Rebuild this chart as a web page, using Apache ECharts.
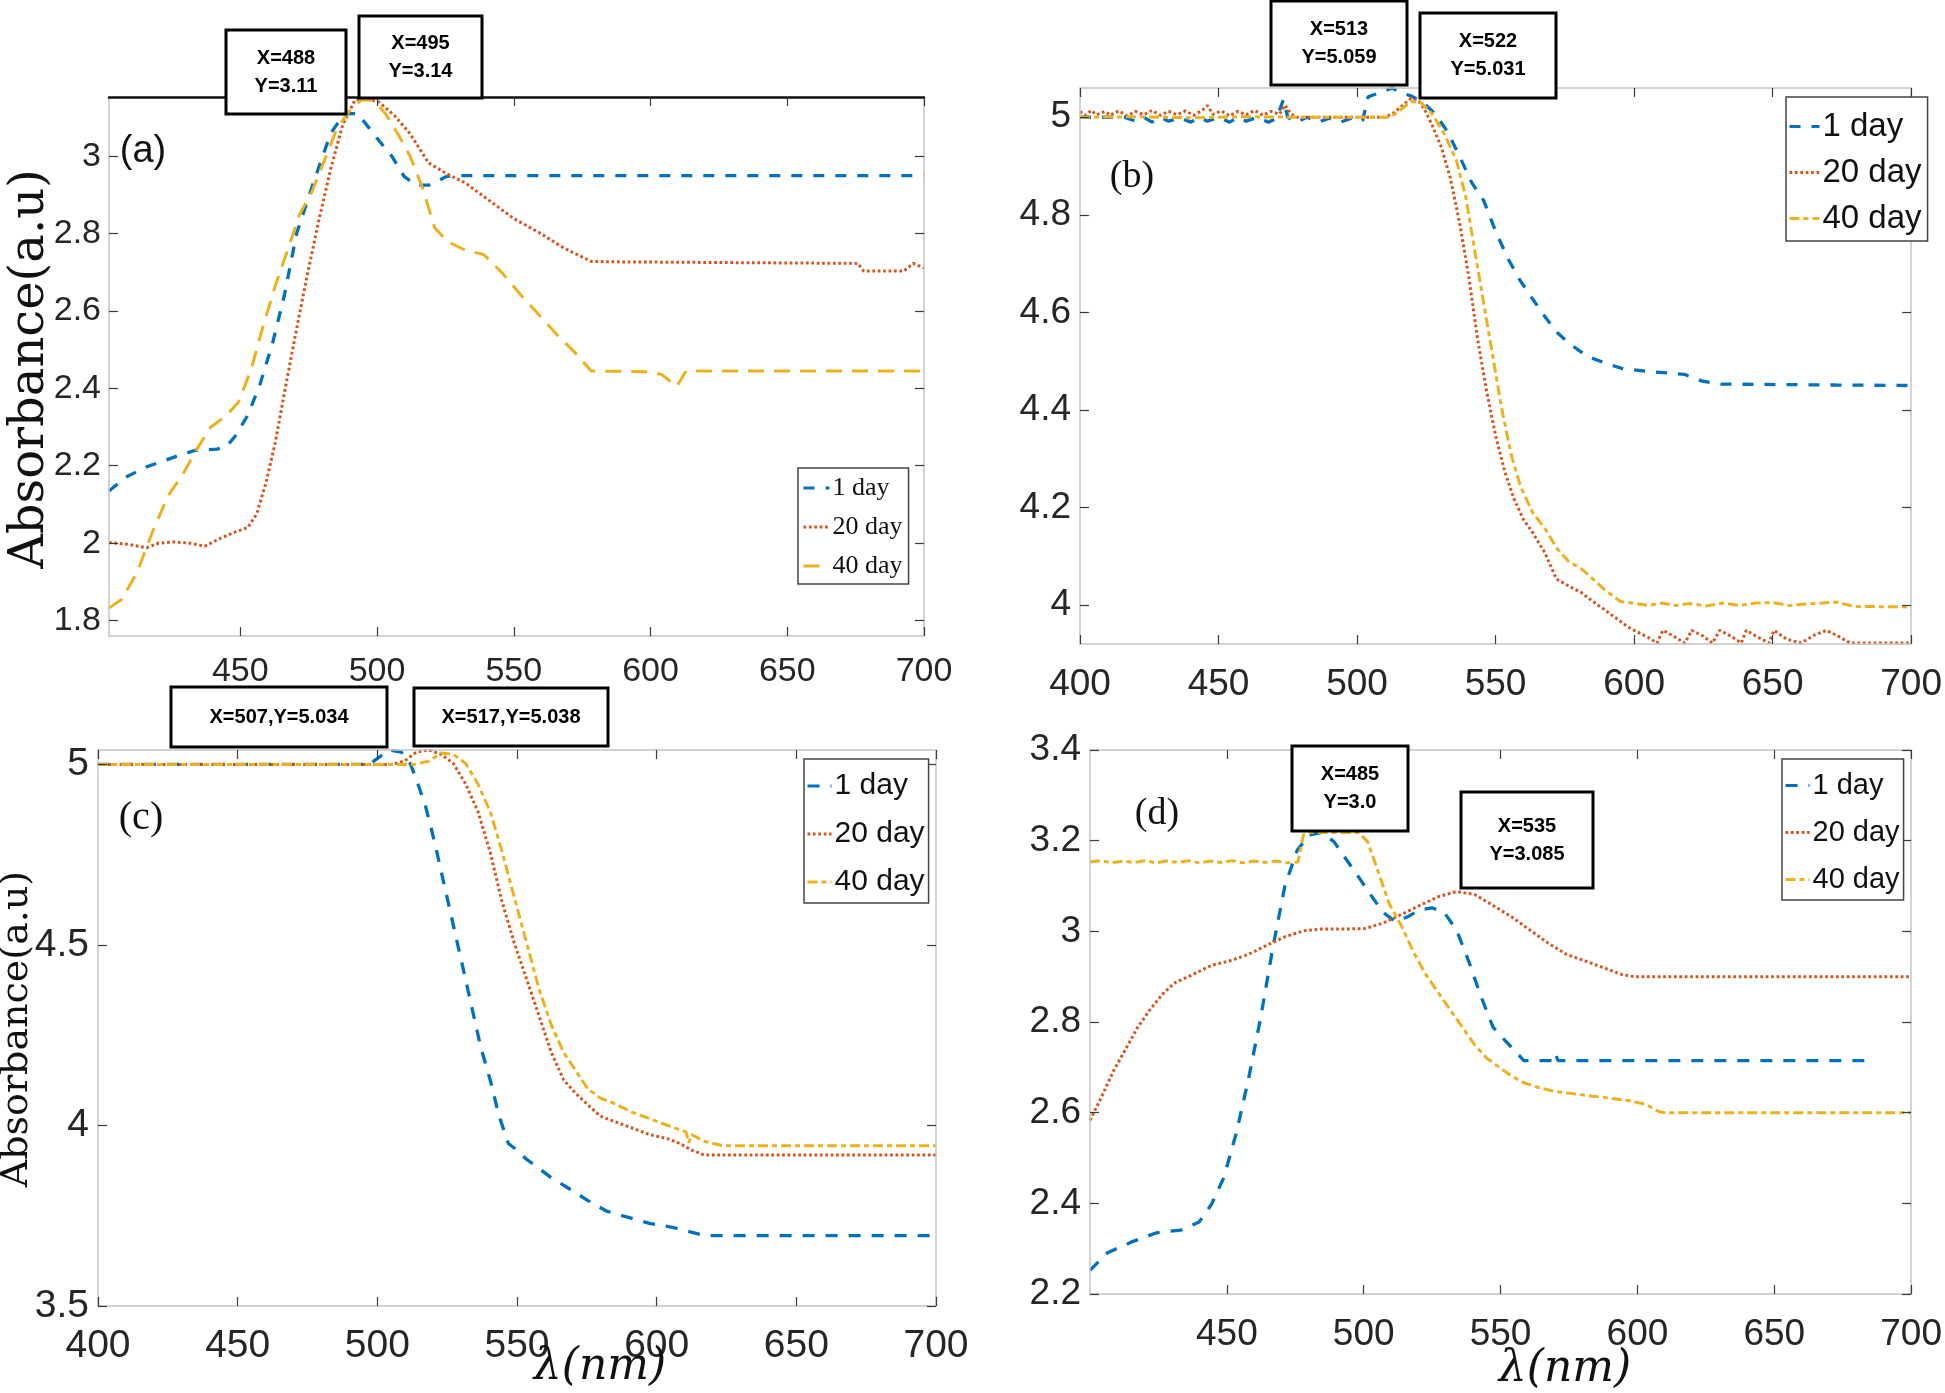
<!DOCTYPE html>
<html>
<head>
<meta charset="utf-8">
<script src="https://cdn.jsdelivr.net/npm/echarts@6/dist/echarts.min.js"></script>
<style>
html,body{margin:0;padding:0;background:#fff;}
#chart{width:1945px;height:1393px;}
</style>
</head>
<body>
<div id="chart"></div>
<script>
// ---------------- DATA ----------------
const seriesLabels = ['1 day', '20 day', '40 day'];

// Panel (a)
const a_xTicks = [450, 500, 550, 600, 650, 700];
const a_yTicks = [1.8, 2, 2.2, 2.4, 2.6, 2.8, 3];
const a_day1 = [[402,2.135],[408,2.17],[415.7,2.197],[421,2.21],[426.9,2.225],[433.6,2.24],[441.5,2.243],[445,2.25],[448.2,2.277],[452.7,2.33],[457.2,2.41],[461.7,2.514],[466.1,2.64],[470.6,2.80],[476.2,2.92],[483,3.058],[488,3.11],[493,3.11],[498.7,3.058],[505.4,3.0],[509.9,2.948],[514.3,2.925],[518.8,2.925],[525.6,2.948],[529,2.95],[600,2.95],[700,2.95]];
const a_day20 = [[402,2.002],[408.9,1.997],[415.7,1.988],[420.2,2.0],[425.8,2.003],[431.4,2.0],[437,1.992],[442.6,2.012],[448.2,2.029],[452.7,2.04],[456,2.075],[459.4,2.156],[462.8,2.26],[466.1,2.387],[469.5,2.514],[474,2.676],[478.5,2.827],[483,2.965],[487.4,3.08],[491.9,3.145],[496,3.15],[500.9,3.139],[506.5,3.104],[512.1,3.058],[518.8,2.983],[525.6,2.954],[532.3,2.931],[541.3,2.884],[550.2,2.838],[559.2,2.803],[568.2,2.763],[578.3,2.728],[586.1,2.727],[630,2.725],[675.8,2.723],[678,2.703],[692.6,2.703],[696,2.723],[700,2.711]];
const a_day40 = [[402,1.832],[406.7,1.855],[412.3,1.925],[417.9,2.029],[423.5,2.121],[429.1,2.179],[433.6,2.237],[439.2,2.30],[444.8,2.329],[449.3,2.364],[453.8,2.445],[458.3,2.56],[462.8,2.665],[467.3,2.757],[471.7,2.85],[476.2,2.908],[480.7,2.988],[485.2,3.069],[489.7,3.116],[494.2,3.145],[498.7,3.145],[503.1,3.11],[507.6,3.058],[512.1,3.0],[516.6,2.919],[521.1,2.815],[525.6,2.78],[532.3,2.757],[539,2.746],[545.7,2.699],[552.5,2.642],[559.2,2.59],[565.9,2.538],[572.6,2.491],[578.3,2.445],[599.6,2.443],[604,2.436],[609.6,2.405],[613,2.445],[700,2.445]];

// Panel (b)
const b_xTicks = [400, 450, 500, 550, 600, 650, 700];
const b_yTicks = [4, 4.2, 4.4, 4.6, 4.8, 5];
const b_day1 = [[400,5.0],[410,5.0],[416,5.0],[420,4.992],[423,5.0],[426,4.99],[429,5.0],[432,4.992],[436,4.999],[440,4.99],[443,5.0],[446,4.992],[450,5.0],[454,4.99],[457,5.0],[460,4.992],[464,5.0],[468,4.99],[471,4.998],[473.4,5.036],[475,5.0],[478,4.99],[482,5.0],[486,4.99],[490,4.998],[494,4.99],[498,4.998],[502,4.993],[504,5.042],[508,5.05],[512.7,5.06],[516,5.05],[519.4,5.044],[523.8,5.03],[528.2,5.007],[532.6,4.971],[537,4.92],[541.4,4.866],[545.7,4.829],[550.1,4.765],[554.5,4.71],[558.9,4.665],[563.3,4.628],[567.7,4.592],[572,4.56],[576.4,4.537],[583,4.51],[589.6,4.496],[596.1,4.484],[607.1,4.478],[618.1,4.473],[624.6,4.459],[631.2,4.453],[650.9,4.452],[672.8,4.451],[700,4.45]];
const b_day20 = [[400,5.012],[402,5.004],[404,5.014],[406,5.005],[409,5.012],[411,5.004],[414,5.013],[417,5.003],[420,5.012],[423,5.005],[426,5.014],[429,5.004],[432,5.012],[435,5.005],[438,5.013],[441,5.004],[444,5.014],[446,5.024],[448,5.006],[451,5.013],[454,5.003],[457,5.012],[460,5.005],[463,5.014],[466,5.004],[469,5.012],[472,5.006],[474,5.025],[476,5.008],[478,5.0],[510,5.0],[513,5.008],[517.4,5.029],[519.5,5.039],[522.4,5.032],[524.5,5.015],[527.1,4.984],[530.4,4.939],[533.7,4.875],[537,4.784],[540.3,4.674],[543.5,4.546],[546.8,4.437],[550.1,4.345],[553.4,4.272],[556.7,4.217],[560,4.176],[563.3,4.149],[567.7,4.108],[572,4.053],[576.4,4.039],[580.8,4.026],[585.2,4.007],[591.8,3.98],[598.3,3.953],[604.9,3.934],[608.3,3.922],[610.4,3.948],[614,3.937],[618.3,3.922],[620.8,3.948],[625,3.936],[628.3,3.922],[630.9,3.948],[635,3.936],[638.7,3.922],[640.5,3.948],[645,3.933],[648.7,3.922],[650.5,3.948],[655,3.93],[660.2,3.922],[665,3.938],[669.5,3.948],[674,3.935],[678,3.922],[700,3.922]];
const b_day40 = [[400,5.0],[420,5.001],[440,4.999],[460,5.001],[480,5.0],[512,5.0],[515,5.012],[519.4,5.032],[522.7,5.032],[527.1,5.007],[531.5,4.966],[535.9,4.911],[539.2,4.838],[542.4,4.729],[545.7,4.619],[549,4.51],[552.3,4.4],[555.6,4.309],[558.9,4.245],[563.3,4.19],[567.7,4.158],[572,4.117],[576.4,4.089],[580.8,4.075],[585.2,4.053],[589.6,4.03],[595.1,4.007],[600.5,4.003],[605,3.999],[610,4.004],[615,3.999],[620,4.003],[626,3.998],[632,4.004],[638,3.999],[644,4.004],[650,4.005],[656,3.999],[662,4.002],[668,4.004],[672.8,4.006],[679.4,3.997],[700,3.996]];

// Panel (c)
const c_xTicks = [400, 450, 500, 550, 600, 650, 700];
const c_yTicks = [3.5, 4, 4.5, 5];
const c_day1 = [[400,5.0],[498,5.0],[498.7,5.009],[504.2,5.04],[508.6,5.034],[511.8,5.002],[514,4.958],[517.3,4.883],[520.6,4.782],[523.9,4.668],[527.2,4.555],[530.5,4.442],[533.8,4.328],[537.1,4.215],[540.4,4.126],[543.6,4.026],[546.9,3.95],[549.1,3.937],[553.5,3.906],[557.9,3.881],[562.3,3.855],[568.9,3.824],[575.4,3.792],[582,3.763],[588.6,3.748],[597.4,3.729],[606.1,3.717],[612.7,3.704],[617.1,3.695],[700,3.695]];
const c_day20 = [[400,5.0],[505,5.0],[509.6,5.009],[514,5.034],[518.4,5.04],[522.8,5.028],[527.2,5.003],[531.6,4.946],[536,4.87],[540.4,4.757],[544.7,4.618],[549.1,4.504],[553.5,4.404],[557.9,4.303],[562.3,4.202],[566.7,4.126],[571,4.089],[575.4,4.057],[579.8,4.026],[584.2,4.013],[590.8,3.994],[597.4,3.975],[604,3.963],[608.3,3.95],[612.7,3.931],[617.1,3.918],[700,3.918]];
const c_day40 = [[400,5.0],[513,5.0],[518.4,5.009],[522.8,5.032],[527.2,5.028],[531.6,5.003],[536,4.946],[540.4,4.87],[544.7,4.757],[549.1,4.63],[553.5,4.504],[557.9,4.378],[562.3,4.278],[566.7,4.202],[571,4.152],[575.4,4.101],[579.8,4.076],[584.2,4.063],[590.8,4.038],[597.4,4.019],[604,4.0],[608.3,3.988],[610.5,3.982],[611.5,3.952],[612.5,3.975],[617.1,3.956],[623.7,3.944],[700,3.944]];

// Panel (d)
const d_xTicks = [450, 500, 550, 600, 650, 700];
const d_yTicks = [2.2, 2.4, 2.6, 2.8, 3, 3.2, 3.4];
const d_day1 = [[400,2.252],[406.4,2.291],[415.3,2.315],[424.3,2.335],[433.2,2.341],[439.9,2.359],[444.4,2.398],[448.9,2.457],[453.4,2.554],[457.8,2.671],[462.3,2.808],[466.8,2.964],[471.2,3.1],[475.7,3.179],[480.2,3.213],[484.7,3.218],[489.1,3.198],[493.6,3.159],[498.1,3.12],[502.5,3.081],[507,3.042],[511.5,3.022],[516,3.032],[520.4,3.047],[524.9,3.052],[529.4,3.042],[533.9,3.003],[538.3,2.935],[542.8,2.857],[547.3,2.788],[551.7,2.759],[556.2,2.73],[558.5,2.715],[569,2.715],[570,2.73],[571,2.715],[685.2,2.715]];
const d_day20 = [[400,2.583],[404,2.632],[408.5,2.691],[413,2.74],[417.4,2.788],[421.9,2.827],[426.4,2.861],[430.8,2.886],[437.7,2.905],[444.4,2.925],[451.1,2.935],[457.8,2.949],[464.5,2.969],[471.2,2.988],[478,3.001],[484.7,3.005],[491.4,3.005],[500.3,3.006],[507,3.018],[513.7,3.037],[520.4,3.057],[527.1,3.076],[533.9,3.088],[540.6,3.081],[547.3,3.057],[554,3.032],[560.7,3.003],[567.4,2.974],[574.1,2.949],[580.8,2.935],[587.5,2.92],[594.2,2.905],[598.7,2.9],[700,2.9]];
const d_day40 = [[400,3.153],[404,3.156],[408,3.151],[412,3.155],[416,3.152],[420,3.156],[424,3.151],[428,3.155],[432,3.152],[436,3.156],[440,3.151],[444,3.155],[448,3.152],[452,3.156],[456,3.151],[460,3.155],[464,3.152],[468,3.155],[472,3.151],[476,3.153],[478,3.213],[480.2,3.218],[498.1,3.218],[501.4,3.198],[504.8,3.14],[509.3,3.061],[513.7,3.013],[518.2,2.954],[522.7,2.905],[527.1,2.866],[531.6,2.827],[536.1,2.788],[540.6,2.749],[545,2.72],[549.5,2.7],[554,2.681],[558.5,2.666],[562.9,2.657],[569.6,2.647],[576.3,2.642],[583,2.637],[589.8,2.632],[596.5,2.627],[603.2,2.618],[607.6,2.603],[609.9,2.6],[700,2.6]];

// Annotation texts
const annA = ['X=488\nY=3.11', 'X=495\nY=3.14'];
const annB = ['X=513\nY=5.059', 'X=522\nY=5.031'];
const annC = ['X=507,Y=5.034', 'X=517,Y=5.038'];
const annD = ['X=485\nY=3.0', 'X=535\nY=3.085'];

// ---------------- STYLE / LAYOUT ----------------
const SANS = "'Liberation Sans','Arimo',Arial,sans-serif";
const SERIF = "'DejaVu Serif','Liberation Serif',serif";
const COLORS = ['#0072BD', '#D95319', '#EDB120'];
const BORDER = '#c4c4c4';
const TICKC = '#3a3a3a';

const panels = [
  { grid: {left:109, top:97, width:815, height:539}, xmin:402, xmax:700, ymin:1.76, ymax:3.153,
    xt:a_xTicks, yt:a_yTicks, fs:34, xm:19, ym:8, data:[a_day1,a_day20,a_day40],
    dash:[[11,11],[2.7,2.7],[16,10]], topColor:'#111', topW:2.5,
    legend:{left:798, top:468, fs:26, font:"'Liberation Serif',serif", gap:13, iw:26, pad:[7,6,5,4]} },
  { grid: {left:1080, top:88, width:838, height:556}, xmin:400, xmax:700, ymin:3.92, ymax:5.06,
    xt:b_xTicks, yt:b_yTicks, fs:37, xm:22, ym:9, data:[b_day1,b_day20,b_day40],
    dash:[[11,11],[2.7,2.7],[10,4,5,4]], topColor:BORDER, topW:1.5,
    legend:{left:1786, top:97, fs:33, font:SANS, gap:13, iw:30, pad:[13,6,6,2]} },
  { grid: {left:98, top:750, width:838, height:556}, xmin:400, xmax:700, ymin:3.5, ymax:5.04,
    xt:c_xTicks, yt:c_yTicks, fs:39, xm:21, ym:9, data:[c_day1,c_day20,c_day40],
    dash:[[12,11],[2.7,2.7],[10,4,5,4]], topColor:BORDER, topW:1.5,
    legend:{left:804, top:759, fs:30, font:SANS, gap:18, iw:24, pad:[12,4,6,2]} },
  { grid: {left:1090, top:750, width:822, height:544}, xmin:400, xmax:700, ymin:2.2, ymax:3.4,
    xt:d_xTicks, yt:d_yTicks, fs:37, xm:22, ym:9, data:[d_day1,d_day20,d_day40],
    dash:[[12,11],[2.7,2.7],[10,4,5,4]], topColor:BORDER, topW:1.5,
    legend:{left:1782, top:759, fs:29, font:SANS, gap:18, iw:24, pad:[12,4,6,2]} }
];

const grids = [], xAxes = [], yAxes = [], series = [], legends = [], labelMap = {};
panels.forEach((p, i) => {
  grids.push(p.grid);
  const base = (pos, isX, main) => ({
    type: 'value', gridIndex: i, position: pos,
    min: isX ? p.xmin : p.ymin, max: isX ? p.xmax : p.ymax,
    splitLine: {show:false},
    axisLine: {show:true, onZero:false, lineStyle:{color: (pos==='top') ? p.topColor : BORDER, width: (pos==='top') ? p.topW : 1.5}},
    axisTick: {show:true, inside:true, length:9, lineStyle:{color:TICKC, width:1.2}, customValues: isX ? p.xt : p.yt},
    axisLabel: {show: main, margin: isX ? p.xm : p.ym, fontSize: p.fs, fontFamily: SANS, color:'#262626',
      customValues: isX ? p.xt : p.yt},
    z: 5
  });
  xAxes.push(base('bottom', true, true));
  xAxes.push(base('top', true, false));
  yAxes.push(base('left', false, true));
  yAxes.push(base('right', false, false));
  const names = [];
  p.data.forEach((d, k) => {
    const nm = 'p' + i + '_' + k;
    names.push(nm);
    labelMap[nm] = seriesLabels[k];
    series.push({
      name: nm, type: 'line', data: d, xAxisIndex: 2*i, yAxisIndex: 2*i,
      symbol: 'none', showSymbol: false, smooth: false, animation: false,
      lineStyle: {color: COLORS[k], width: (k === 0 ? 3.3 : 3), type: p.dash[k]},
      itemStyle: {color: COLORS[k]}, z: 2 + k
    });
  });
  legends.push({
    data: names, orient: 'vertical', left: p.legend.left, top: p.legend.top,
    backgroundColor: '#fff', borderColor: '#444', borderWidth: 1.5, borderRadius: 0,
    padding: p.legend.pad, itemGap: p.legend.gap, itemWidth: p.legend.iw, itemHeight: 12,
    selectedMode: false,
    itemStyle: {color: 'rgba(0,0,0,0)', borderWidth: 0, opacity: 0},
    lineStyle: {width: 3},
    textStyle: {fontSize: p.legend.fs, fontFamily: p.legend.font, color:'#111', padding:[0,0,0,-2]},
    formatter: n => labelMap[n], z: 10
  });
});

// annotation boxes
function box(x, y, w, h, txt, fs, lh) {
  return [
    {type:'rect', shape:{x, y, width:w, height:h}, style:{fill:'#fff', stroke:'#000', lineWidth:3}, z:100},
    {type:'text', x: x + w/2, y: y + h/2, z:101,
     style:{text: txt, fill:'#000', font: "bold " + fs + "px " + SANS, textAlign:'center', textVerticalAlign:'middle', lineHeight: lh}}
  ];
}
function ttext(x, y, txt, font, rot) {
  return {type:'text', x, y, rotation: rot || 0, z:50,
    style:{text: txt, fill:'#111', font, textAlign:'center', textVerticalAlign:'middle'}};
}

const graphics = [].concat(
  box(226, 30, 120, 84, annA[0], 20, 28),
  box(359, 16, 123, 82, annA[1], 20, 28),
  box(1271, 1, 136, 84, annB[0], 20, 28),
  box(1420, 13, 136, 85, annB[1], 20, 28),
  box(171, 687, 216, 60, annC[0], 20, 28),
  box(414, 688, 194, 58, annC[1], 20, 28),
  box(1292, 746, 116, 85, annD[0], 20, 28),
  box(1461, 792, 132, 96, annD[1], 20, 28),
  [
    ttext(143, 152, '(a)', "38px " + SANS),
    ttext(1132, 177, '(b)', "38px 'Liberation Serif',serif"),
    ttext(141, 818, '(c)', "40px 'Liberation Serif',serif"),
    ttext(1157, 814, '(d)', "38px 'Liberation Serif',serif"),
    ttext(31, 369, 'Absorbance(a.u)', "48px " + SERIF, Math.PI/2),
    ttext(17, 1029, 'Absorbance(a.u)', "38px " + SERIF, Math.PI/2),
    ttext(600, 1368, 'λ(nm)', "italic 44px " + SERIF),
    ttext(1565, 1370, 'λ(nm)', "italic 44px " + SERIF)
  ]
);

const chart = echarts.init(document.getElementById('chart'), null, {renderer:'canvas'});
chart.setOption({
  backgroundColor: '#fff',
  animation: false,
  grid: grids, xAxis: xAxes, yAxis: yAxes, series, legend: legends,
  graphic: graphics
});
</script>
</body>
</html>
